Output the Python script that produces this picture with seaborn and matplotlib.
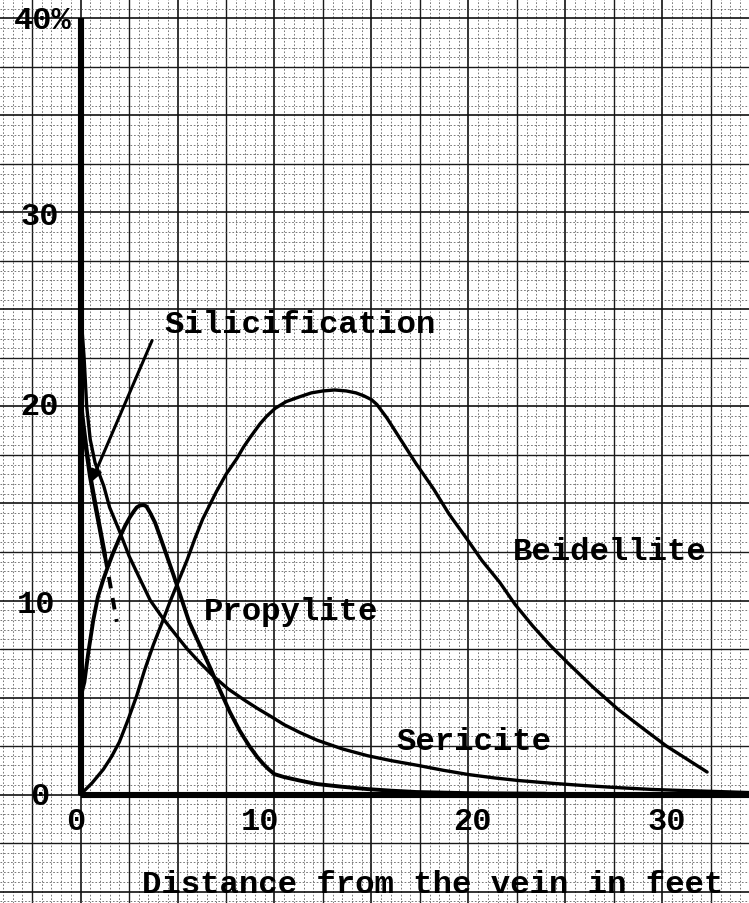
import numpy as np
import pandas as pd
import matplotlib
matplotlib.use("Agg")
import matplotlib.pyplot as plt
import seaborn as sns

# ---------------- data ----------------
sericite_x = [0, 0.18, 0.32, 0.5, 0.75, 1.2, 1.5, 2.0, 2.5, 3.07, 3.6, 4.27, 4.9, 5.5, 6.15,
              6.85, 7.6, 8.4, 9.1, 9.77, 10.5, 11.3, 12.2, 13.5, 14.8, 16.0, 17.4, 18.7,
              20, 21.3, 22.6, 24.3, 26, 27.8, 29.5, 31.3, 33, 34.5]
sericite_y = [25.0, 22.6, 20.0, 18.3, 17.1, 15.9, 14.8, 13.6, 12.3, 11.1, 10.0, 9.05, 8.25,
              7.5, 6.8, 6.1, 5.45, 4.9, 4.45, 4.05, 3.6, 3.2, 2.8, 2.35, 2.0, 1.75, 1.5, 1.25,
              1.03, 0.86, 0.72, 0.58, 0.46, 0.35, 0.26, 0.2, 0.15, 0.1]

propylite_x = [0, 0.2, 0.4, 0.66, 0.9, 1.18, 1.45, 1.7, 2.0, 2.3, 2.55, 2.75, 2.9, 3.07, 3.25,
               3.4, 3.6, 3.85, 4.1, 4.45, 4.8, 5.2, 5.6, 6.15, 6.7, 7.2, 7.7, 8.2, 8.7, 9.1,
               9.4, 9.7, 10.0, 10.5, 11.3, 12.2, 13.5, 14.8, 16.0, 17.3, 20, 24]
propylite_y = [5.0, 5.8, 7.3, 9.0, 10.2, 11.1, 11.85, 12.5, 13.2, 13.85, 14.3, 14.6, 14.8, 14.9,
               14.92, 14.85, 14.5, 14.0, 13.3, 12.3, 11.3, 10.1, 8.9, 7.7, 6.5, 5.35, 4.25,
               3.3, 2.5, 1.95, 1.6, 1.3, 1.05, 0.9, 0.72, 0.54, 0.4, 0.28, 0.2, 0.13, 0.07, 0.04]

beidellite_x = [0, 0.6, 1.18, 1.6, 2.0, 2.45, 2.9, 3.3, 3.75, 4.2, 4.6, 5.05, 5.5, 5.9, 6.3,
                6.65, 7.0, 7.5, 8.05, 8.4, 8.74, 9.25, 9.6, 10.03, 10.6, 11.3, 11.9, 12.5,
                13.1, 13.7, 14.2, 14.6, 15.0, 15.28, 15.8, 16.5, 17.3, 18.2, 19.0, 19.9,
                20.7, 21.6, 22.4, 23.3, 24.2, 25.1, 26.4, 27.7, 29.0, 30.2, 31.3, 32.3]
beidellite_y = [0, 0.6, 1.3, 1.95, 2.7, 3.85, 5.1, 6.4, 7.7, 8.85, 9.9, 11.0, 12.1, 13.2, 14.2,
                14.9, 15.6, 16.5, 17.3, 17.9, 18.4, 19.1, 19.5, 19.9, 20.25, 20.5, 20.7, 20.8,
                20.85, 20.8, 20.7, 20.55, 20.35, 20.1, 19.4, 18.3, 17.05, 15.75, 14.45, 13.2,
                12.05, 10.95, 9.8, 8.7, 7.7, 6.8, 5.55, 4.4, 3.4, 2.5, 1.8, 1.16]

silic_x = [0, 0.15, 0.3, 0.5, 0.75, 1.0, 1.26]
silic_y = [20.3, 19.0, 17.8, 16.4, 15.0, 13.7, 12.3]
silic_dash_x = [1.26, 1.5, 1.87]
silic_dash_y = [12.3, 11.0, 8.9]

x_ticks = [0, 10, 20, 30]
x_tick_labels = ["0", "10", "20", "30"]
y_ticks = [0, 10, 20, 30, 40]
y_tick_labels = ["0", "10", "20", "30", "40%"]

curve_labels = ["Silicification", "Propylite", "Beidellite", "Sericite"]
x_title = "Distance from the vein in feet"

# ---------------- figure ----------------
sns.set_theme(style="white")
plt.rcParams["font.family"] = ["Liberation Mono", "DejaVu Sans Mono"]

fig = plt.figure(figsize=(7.49, 9.04), dpi=100)
ax = fig.add_axes([0, 0, 1, 1])
ax.set_xlim(-4.15, 34.46)
ax.set_ylim(-5.59, 41.0)
for s in ax.spines.values():
    s.set_visible(False)
ax.set_xticks([])
ax.set_yticks([])

# graph paper
x0, x1 = ax.get_xlim()
y0, y1 = ax.get_ylim()
def grid_style(v):
    if abs(v / 5 - round(v / 5)) < 1e-6:
        return dict(color="#111111", lw=1.2)
    if abs(v / 2.5 - round(v / 2.5)) < 1e-6:
        return dict(color="#1a1a1a", lw=1.0)
    return dict(color="#555555", lw=0.55, ls=(0, (2.2, 2.4)))

for v in np.arange(-4.0, 34.6, 0.5):
    ax.axvline(v, zorder=0, **grid_style(v))
for v in np.arange(-5.5, 41.0, 0.5):
    ax.axhline(v, zorder=0, **grid_style(v))

# main axes (hand drawn, thick)
ax.plot([0, 0], [0, 40], color="black", lw=4.4, solid_capstyle="butt", zorder=3)
ax.plot([0, x1], [0, 0], color="black", lw=4.4, solid_capstyle="butt", zorder=3)

# curves
lw = 2.4
common = dict(color="black", sort=False, zorder=4)
sns.lineplot(x=sericite_x, y=sericite_y, ax=ax, lw=lw, **common)
sns.lineplot(x=propylite_x, y=propylite_y, ax=ax, lw=lw + 0.4, **common)
sns.lineplot(x=beidellite_x, y=beidellite_y, ax=ax, lw=lw, **common)
sns.lineplot(x=silic_x, y=silic_y, ax=ax, lw=lw + 0.8, **common)
sns.lineplot(x=silic_dash_x, y=silic_dash_y, ax=ax, lw=lw + 0.4,
             linestyle=(0, (3, 2.5)), **common)
for line in ax.get_lines():
    line.set_solid_joinstyle("round")

# leader arrow to silicification curve
ax.annotate("", xy=(0.55, 16.1), xytext=(3.69, 23.4),
            arrowprops=dict(arrowstyle="-|>", color="black", lw=2.2,
                            mutation_scale=16, shrinkA=0, shrinkB=0), zorder=5)

# tick labels (typed)
tick_font = dict(fontsize=23, fontweight="bold", color="black", ha="center", va="center")
tick_x_pos = [-0.23, 9.25, 20.2, 30.2]
for xv, lab, xp in zip(x_ticks, x_tick_labels, tick_x_pos):
    ax.text(xp, -1.35, lab, **tick_font)
tick_y_pos_x = [-2.1, -2.3, -2.1, -2.1, -1.95]
tick_y_pos_y = [-0.1, 9.8, 20.0, 29.8, 39.9]
for lab, xp, yp in zip(y_tick_labels, tick_y_pos_x, tick_y_pos_y):
    ax.text(xp, yp, lab, **tick_font)

# curve labels
label_font = dict(fontsize=23.3, fontweight="bold", color="black", ha="center", va="center")
label_pos = [(11.31, 24.25), (10.85, 9.46), (27.3, 12.55), (20.28, 2.76)]
for lab, (xp, yp) in zip(curve_labels, label_pos):
    ax.text(xp, yp, lab, zorder=6, **label_font)

ax.text(18.17, -4.61, x_title, **label_font)

fig.savefig("out.png", dpi=100)
